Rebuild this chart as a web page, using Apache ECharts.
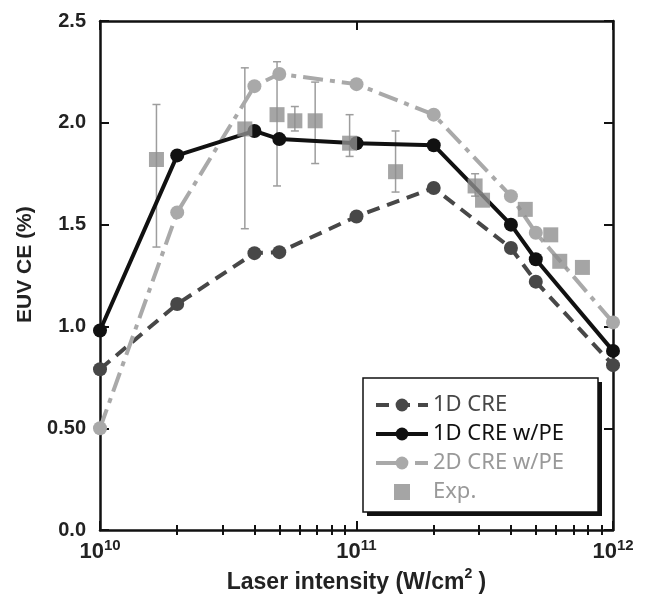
<!DOCTYPE html>
<html>
<head>
<meta charset="utf-8">
<script src="https://cdn.jsdelivr.net/npm/echarts@6/dist/echarts.min.js"></script>
<style>
  html, body { margin: 0; padding: 0; background: #fff; }
  #chart { width: 655px; height: 599px; }
</style>
</head>
<body>
<div id="chart"></div>
<script>
// laser intensity of the model runs (W/cm2)
var intensity = [1e10, 2e10, 4e10, 5e10, 1e11, 2e11, 4e11, 5e11, 1e12];
// EUV CE (%)
var ce1d   = [0.79, 1.11, 1.36, 1.365, 1.54, 1.68, 1.385, 1.22, 0.81];
var ce1dPE = [0.98, 1.84, 1.96, 1.92, 1.90, 1.89, 1.50, 1.33, 0.88];
var ce2dPE = [0.50, 1.56, 2.18, 2.24, 2.19, 2.04, 1.64, 1.46, 1.02];

// experiment, with error bars (null = no bar)
var expX  = [1.66e10, 3.67e10, 4.9e10, 5.75e10, 6.9e10, 9.4e10, 1.42e11, 2.9e11, 3.1e11, 4.55e11, 5.72e11, 6.2e11, 7.6e11];
var expY  = [1.82, 1.97, 2.04, 2.01, 2.01, 1.90, 1.76, 1.69, 1.62, 1.575, 1.45, 1.32, 1.29];
var expLo = [1.39, 1.48, 1.69, 1.96, 1.80, 1.835, 1.66, 1.64, null, null, null, null, null];
var expHi = [2.09, 2.27, 2.30, 2.08, 2.20, 2.04, 1.96, 1.75, null, null, null, null, null];

// minor ticks of the log axis
var minorTicks = [2e10, 3e10, 4e10, 5e10, 6e10, 7e10, 8e10, 9e10,
                  2e11, 3e11, 4e11, 5e11, 6e11, 7e11, 8e11, 9e11];

var C1D = '#474747', CPE = '#111111', C2D = '#a9a9a9', CEXP = '#8e8e8e';
var bold = { fontFamily: 'Liberation Sans', fontWeight: 'bold', color: '#222' };

function pairs(xs, ys) {
  var out = [];
  for (var i = 0; i < xs.length; i++) out.push([xs[i], ys[i]]);
  return out;
}

var errData = [];
for (var i = 0; i < expX.length; i++) {
  if (expLo[i] != null) errData.push([expX[i], expY[i], expLo[i], expHi[i]]);
}

function logAxis(pos, opts) {
  var a = {
    type: 'log', logBase: 10, min: 1e10, max: 1e12, position: pos,
    axisLine: { show: true, onZero: false, lineStyle: { color: '#111', width: 2.5 } },
    axisTick: { show: true, inside: true, length: 9, lineStyle: { color: '#111', width: 2 } },
    axisLabel: { show: false },
    splitLine: { show: false }, minorSplitLine: { show: false }
  };
  return Object.assign(a, opts || {});
}

var chart = echarts.init(document.getElementById('chart'));

chart.setOption({
  animation: false,
  backgroundColor: '#fff',
  grid: { left: 100, right: 42, top: 21, bottom: 68 },
  xAxis: [
    logAxis('bottom', {
      name: 'Laser intensity (W/cm{s|2} )',
      nameLocation: 'middle', nameGap: 30,
      nameTextStyle: {
        fontFamily: 'Liberation Sans', fontWeight: 'bold', fontSize: 23, color: '#222',
        rich: { s: { fontFamily: 'Liberation Sans', fontWeight: 'bold', fontSize: 14, color: '#222', padding: [0, 0, 16, 0] } }
      },
      axisLabel: {
        show: true, margin: 8,
        formatter: function (v) {
          return '{b|10}{s|' + Math.round(Math.log10(v)) + '}';
        },
        rich: {
          b: { fontFamily: 'Liberation Sans', fontWeight: 'bold', fontSize: 22, color: '#222' },
          s: { fontFamily: 'Liberation Sans', fontWeight: 'bold', fontSize: 15, color: '#222', padding: [0, 0, 12, 0] }
        }
      }
    }),
    logAxis('bottom', { axisLine: { show: false }, axisTick: { show: true, inside: true, length: 5, customValues: minorTicks, lineStyle: { color: '#111', width: 2 } } }),
    logAxis('top'),
    logAxis('top', { axisLine: { show: false }, axisTick: { show: true, inside: true, length: 5, customValues: minorTicks, lineStyle: { color: '#111', width: 2 } } })
  ],
  yAxis: [
    {
      type: 'value', min: 0, max: 2.5, interval: 0.5, position: 'left',
      name: 'EUV CE (%)', nameLocation: 'middle', nameGap: 62,
      nameTextStyle: Object.assign({ fontSize: 21, padding: [0, 0, 0, 22] }, bold),
      axisLine: { show: true, lineStyle: { color: '#111', width: 2.5 } },
      axisTick: { show: true, inside: true, length: 9, lineStyle: { color: '#111', width: 2 } },
      axisLabel: Object.assign({
        fontSize: 20, margin: 14,
        formatter: function (v) { return v === 0.5 ? '0.50' : v.toFixed(1); }
      }, bold),
      splitLine: { show: false }
    },
    {
      type: 'value', min: 0, max: 2.5, interval: 0.5, position: 'right',
      axisLine: { show: true, lineStyle: { color: '#111', width: 2.5 } },
      axisTick: { show: true, inside: true, length: 9, lineStyle: { color: '#111', width: 2 } },
      axisLabel: { show: false },
      splitLine: { show: false }
    }
  ],
  graphic: [
    { type: 'rect', z: 3, shape: { x: 367, y: 382, width: 235, height: 134 }, style: { fill: '#111' } },
    { type: 'rect', z: 3, shape: { x: 363, y: 378, width: 235, height: 134 }, style: { fill: '#fff', stroke: '#111', lineWidth: 1.5 } }
  ],
  legend: {
    z: 5, orient: 'vertical', left: 369, top: 389,
    itemWidth: 52, itemHeight: 16, itemGap: 7,
    textStyle: { fontFamily: 'Noto Sans', fontSize: 22 },
    data: [
      { name: '1D CRE', textStyle: { color: C1D }, lineStyle: { width: 4 } },
      { name: '1D CRE w/PE', textStyle: { color: '#111' }, lineStyle: { width: 4 } },
      { name: '2D CRE w/PE', textStyle: { color: '#999' }, lineStyle: { width: 4 } },
      { name: 'Exp.', textStyle: { color: '#999' }, icon: 'path://M0,0H10V10H0Z', itemStyle: { color: CEXP } }
    ]
  },
  series: [
    {
      type: 'custom', name: 'err', z: 1, silent: true,
      data: errData,
      encode: { x: 0, y: 1 },
      renderItem: function (params, api) {
        var x = api.value(0);
        var lo = api.coord([x, api.value(2)]);
        var hi = api.coord([x, api.value(3)]);
        var cap = 4;
        var st = { stroke: '#9d9d9d', lineWidth: 1.5 };
        return {
          type: 'group',
          children: [
            { type: 'line', shape: { x1: lo[0], y1: lo[1], x2: hi[0], y2: hi[1] }, style: st },
            { type: 'line', shape: { x1: lo[0] - cap, y1: lo[1], x2: lo[0] + cap, y2: lo[1] }, style: st },
            { type: 'line', shape: { x1: hi[0] - cap, y1: hi[1], x2: hi[0] + cap, y2: hi[1] }, style: st }
          ]
        };
      }
    },
    {
      type: 'line', name: '1D CRE', z: 2,
      data: pairs(intensity, ce1d),
      symbol: 'circle', symbolSize: 14,
      lineStyle: { color: C1D, width: 4, type: [13, 8] },
      itemStyle: { color: C1D }
    },
    {
      type: 'line', name: '2D CRE w/PE', z: 3,
      data: pairs(intensity, ce2dPE),
      symbol: 'circle', symbolSize: 14,
      lineStyle: { color: C2D, width: 4, type: [20, 7, 5, 7] },
      itemStyle: { color: C2D }
    },
    {
      type: 'line', name: '1D CRE w/PE', z: 4,
      data: pairs(intensity, ce1dPE),
      symbol: 'circle', symbolSize: 14,
      lineStyle: { color: CPE, width: 4 },
      itemStyle: { color: CPE }
    },
    {
      type: 'scatter', name: 'Exp.', z: 5,
      data: pairs(expX, expY),
      symbol: 'rect', symbolSize: 15,
      itemStyle: { color: CEXP }
    }
  ]
});
</script>
</body>
</html>
